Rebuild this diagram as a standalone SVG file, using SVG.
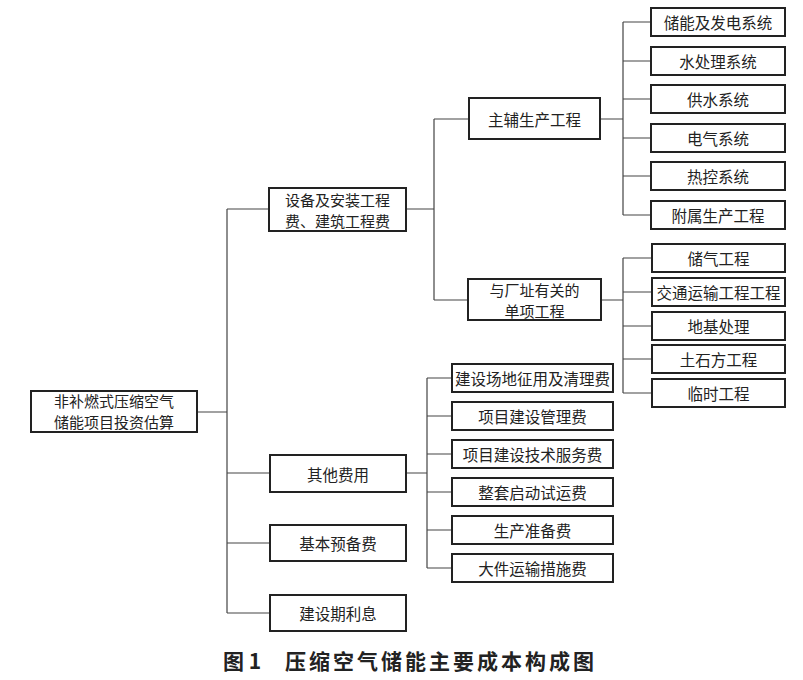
<svg xmlns="http://www.w3.org/2000/svg" width="803" height="680" viewBox="0 0 803 680">
<style>
.box{fill:#fff;stroke:#222;stroke-width:2}
.t{font-family:"Noto Sans CJK SC","Noto Sans",sans-serif;font-size:15.5px;fill:#222;text-anchor:middle;dominant-baseline:central}
.t2{font-size:15px}
.c{fill:none;stroke:#444;stroke-width:1.2}
.title{font-family:"Noto Sans CJK SC","Noto Sans",sans-serif;font-size:21px;font-weight:bold;fill:#222;dominant-baseline:central}
</style>
<rect width="803" height="680" fill="#fff"/>
<g id="connectors">
<path class="c" d="M197 412H227M227 209V613M227 209H269M227 473H270M227 543H270M227 613H270"/>
<path class="c" d="M406 209H434M434 119V300M434 119H469M434 300H468"/>
<path class="c" d="M600 119H623M623 22V215M623 22H651M623 61H651M623 99H651M623 138H651M623 176H651M623 215H651"/>
<path class="c" d="M601 300H623M623 258V393M623 258H652M623 292H652M623 326H652M623 359H652M623 393H652"/>
<path class="c" d="M406 473H427M427 378V568M427 378H452M427 416H452M427 454H452M427 492H452M427 530H452M427 568H452"/>
</g>
<g id="root"><rect class="box" x="31" y="391" width="166" height="41"/><text class="t t2" x="114" y="400.5">非补燃式压缩空气</text><text class="t t2" x="114" y="421.5">储能项目投资估算</text></g>
<g id="n_equip"><rect class="box" x="269" y="188" width="137" height="43"/><text class="t t2" x="337.5" y="199">设备及安装工程</text><text class="t t2" x="337.5" y="220">费、建筑工程费</text></g>
<g id="n_main"><rect class="box" x="469" y="98" width="131" height="41"/><text class="t" x="534.5" y="119">主辅生产工程</text></g>
<g id="n_site"><rect class="box" x="468" y="279" width="133" height="41"/><text class="t t2" x="534.5" y="289">与厂址有关的</text><text class="t t2" x="534.5" y="310">单项工程</text></g>
<g id="n_other"><rect class="box" x="270" y="455" width="136" height="37"/><text class="t" x="338" y="473.5">其他费用</text></g>
<g id="n_reserve"><rect class="box" x="270" y="525" width="136" height="36"/><text class="t" x="338" y="543">基本预备费</text></g>
<g id="n_interest"><rect class="box" x="270" y="595" width="136" height="36"/><text class="t" x="338" y="613">建设期利息</text></g>
<g id="m1"><rect class="box" x="651" y="8" width="134" height="28"/><text class="t" x="718" y="22">储能及发电系统</text></g>
<g id="m2"><rect class="box" x="651" y="47" width="134" height="28"/><text class="t" x="718" y="61">水处理系统</text></g>
<g id="m3"><rect class="box" x="651" y="85" width="134" height="28"/><text class="t" x="718" y="99">供水系统</text></g>
<g id="m4"><rect class="box" x="651" y="124" width="134" height="28"/><text class="t" x="718" y="138">电气系统</text></g>
<g id="m5"><rect class="box" x="651" y="162" width="134" height="28"/><text class="t" x="718" y="176">热控系统</text></g>
<g id="m6"><rect class="box" x="651" y="201" width="134" height="28"/><text class="t" x="718" y="215">附属生产工程</text></g>
<g id="s1"><rect class="box" x="652" y="244" width="133" height="28"/><text class="t" x="718.5" y="258">储气工程</text></g>
<g id="s2"><rect class="box" x="652" y="278" width="133" height="28"/><text class="t" x="718.5" y="292">交通运输工程工程</text></g>
<g id="s3"><rect class="box" x="652" y="312" width="133" height="28"/><text class="t" x="718.5" y="326">地基处理</text></g>
<g id="s4"><rect class="box" x="652" y="345" width="133" height="28"/><text class="t" x="718.5" y="359">土石方工程</text></g>
<g id="s5"><rect class="box" x="652" y="379" width="133" height="28"/><text class="t" x="718.5" y="393">临时工程</text></g>
<g id="o1"><rect class="box" x="452" y="364" width="161" height="28"/><text class="t" x="532.5" y="378">建设场地征用及清理费</text></g>
<g id="o2"><rect class="box" x="452" y="402" width="161" height="28"/><text class="t" x="532.5" y="416">项目建设管理费</text></g>
<g id="o3"><rect class="box" x="452" y="440" width="161" height="28"/><text class="t" x="532.5" y="454">项目建设技术服务费</text></g>
<g id="o4"><rect class="box" x="452" y="478" width="161" height="28"/><text class="t" x="532.5" y="492">整套启动试运费</text></g>
<g id="o5"><rect class="box" x="452" y="516" width="161" height="28"/><text class="t" x="532.5" y="530">生产准备费</text></g>
<g id="o6"><rect class="box" x="452" y="554" width="161" height="28"/><text class="t" x="532.5" y="568">大件运输措施费</text></g>
<g id="caption"><text class="title" x="223" y="660">图 1</text><text class="title" x="285" y="660" letter-spacing="3">压缩空气储能主要成本构成图</text></g>
</svg>
